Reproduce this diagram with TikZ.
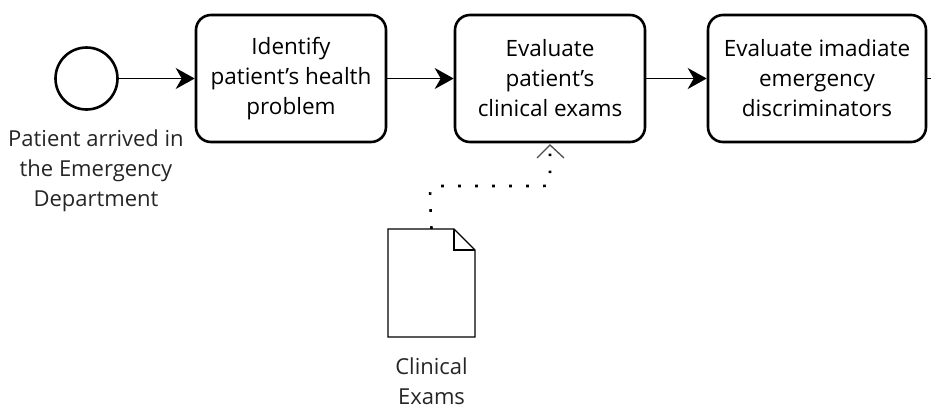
\documentclass[tikz,border=0pt]{standalone}
\usepackage{fontspec}
\setmainfont{Open Sans}
\usetikzlibrary{arrows.meta}
\begin{document}
\begin{tikzpicture}[x=1pt,y=-1pt,
  task/.style={draw, line width=2.6pt, rounded corners=15pt, minimum width=190pt,
    minimum height=127pt, align=center, font=\fontsize{22.5}{30}\selectfont, inner sep=0pt},
  evt/.style={draw, circle, line width=2.6pt, minimum size=62pt, inner sep=0pt},
  flow/.style={line width=1.8pt, -{Stealth[length=19pt,width=21pt,inset=6pt]}},
  assoc/.style={line width=2.6pt, dotted, dash pattern=on 2.6pt off 14.4pt, line cap=butt},
  lbl/.style={align=center, font=\fontsize{22}{30}\selectfont, text=black!85},
  doc/.style={line width=1.4pt}]
\useasboundingbox (0,0) rectangle (931,408);

% start event and its label
\node[evt] (start) at (86.5,78.5) {};
\node[lbl, anchor=north] (startlbl) at (96,126) {Patient arrived in\\the Emergency\\Department};

% tasks
\node[task] (t1) at (291,78.5) {Identify\\patient's health\\problem};
\node[task] (t2) at (550,78.5) {Evaluate\\patient's\\clinical exams};
\node[task, minimum width=218pt] (t3) at (817,78.5) {Evaluate imadiate\\emergency\\discriminators};
\coordinate (out) at (931,78.5);

% sequence flows
\draw[flow] (start) -- (t1);
\draw[flow] (t1) -- (t2);
\draw[flow] (t2) -- (t3);
\draw[line width=1.8pt] (t3) -- (out);

% data object
\draw[doc, fill=white] (388,229) -- (454,229) -- (475,250) -- (475,337) -- (388,337) -- cycle;
\draw[doc] (454,229) -- (454,250) -- (475,250);
\node[inner sep=0pt, minimum width=87pt, minimum height=108pt] (data) at (431.5,283) {};
\node[lbl, anchor=north] (datalbl) at (431.5,354) {Clinical\\Exams};

% association
\draw[assoc] (data.north) -- (430,200) .. controls (430,186) .. (446,186) -- (540,186)
  .. controls (550,186) .. (550,170) -- (t2.south);
\draw[line width=1.3pt, black!70] (537,158) -- (550,145) -- (564,158);
\end{tikzpicture}
\end{document}
